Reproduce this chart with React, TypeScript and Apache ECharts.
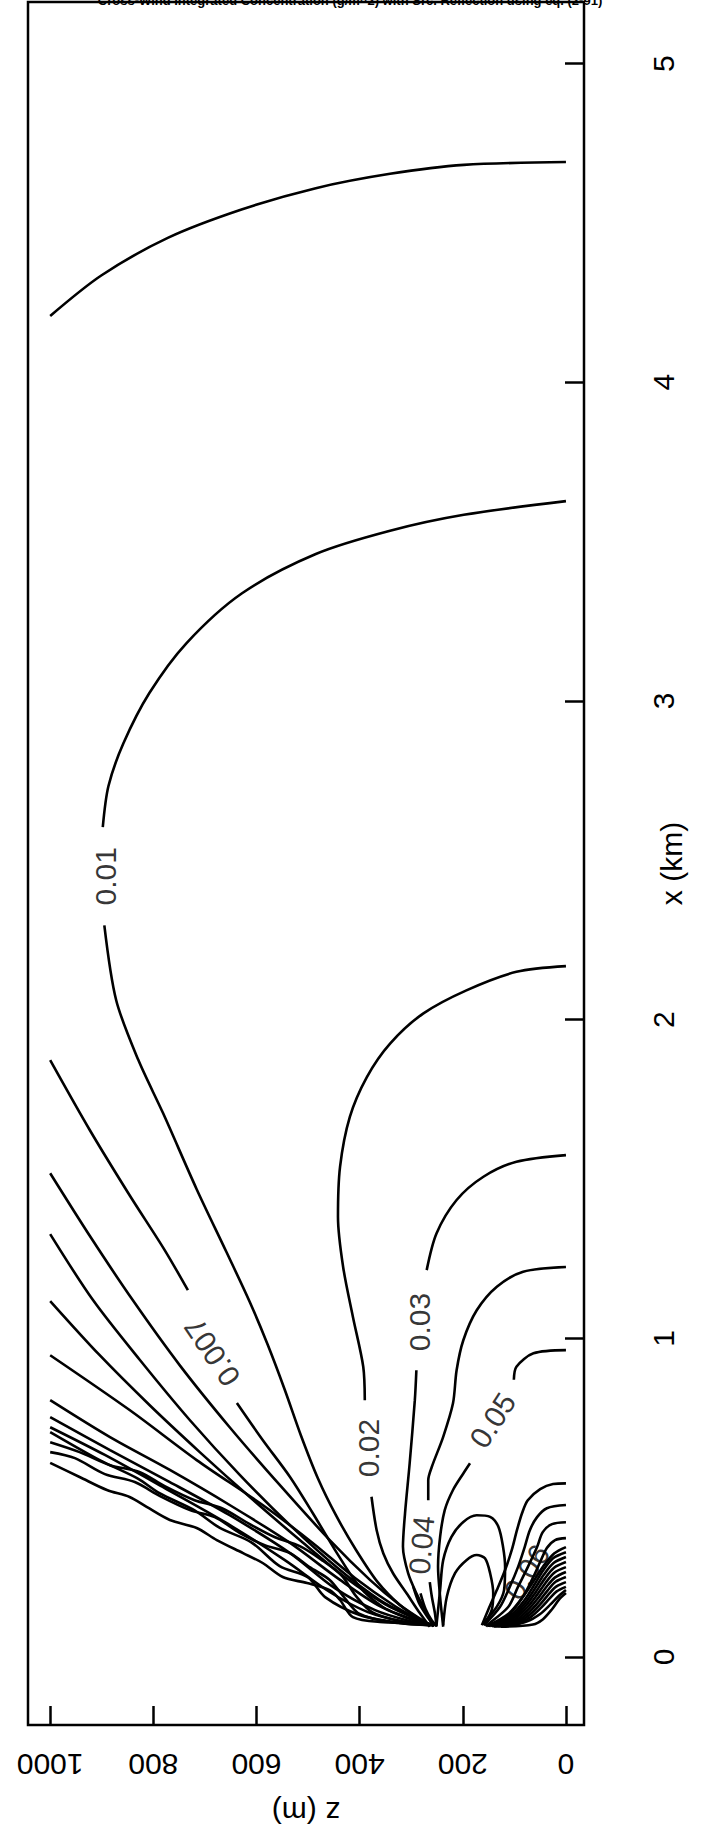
import React, { useEffect, useRef } from "react";
import * as echarts from "echarts";

// ---- axes ----
const Z_TICKS = [0, 200, 400, 600, 800, 1000]; // z (m), horizontal axis
const X_TICKS = [0, 1, 2, 3, 4, 5]; // x (km), vertical axis

const TITLE = "Cross-Wind Integrated Concentration (g/m^2) with Src. Reflection using eq. (2-91)";

// ---- contour lines: points are [z (m), x (km)]; each contour is a list of segments ----
const C_TOP = [[[1000, 4.208], [901, 4.335], [772, 4.453], [629, 4.542], [485, 4.609], [341, 4.654], [198, 4.682], [0, 4.691]]];

const C_001 = [
  [[0, 3.627], [198, 3.584], [341, 3.534], [485, 3.461], [628, 3.338], [736, 3.181], [808, 3.024], [858, 2.867], [887, 2.733], [898, 2.604]],
  [[895, 2.296], [872, 2.061], [829, 1.873], [781, 1.706], [716, 1.468], [658, 1.27], [613, 1.114], [578, 0.979], [545, 0.838], [514, 0.696], [481, 0.561], [446, 0.445], [407, 0.336], [365, 0.235], [322, 0.163], [279, 0.113]],
];

const C_002 = [
  [[0, 2.168], [96, 2.15], [193, 2.092], [277, 2.019], [341, 1.925], [386, 1.82], [419, 1.695], [438, 1.538], [442, 1.381], [432, 1.224], [413, 1.067], [393, 0.911], [390, 0.806]],
  [[377, 0.503], [367, 0.398], [354, 0.325], [335, 0.262], [309, 0.2], [283, 0.137], [264, 0.095]],
];

const C_003 = [
  [[0, 1.575], [96, 1.554], [160, 1.507], [212, 1.434], [251, 1.329], [270, 1.214]],
  [[290, 0.9], [293, 0.806], [303, 0.608], [312, 0.451], [316, 0.346], [306, 0.263], [290, 0.2], [270, 0.137], [257, 0.095]],
];

const C_004 = [
  [[0, 1.224], [83, 1.209], [134, 1.162], [173, 1.088], [199, 0.994], [212, 0.9], [219, 0.796], [238, 0.691], [260, 0.597], [267, 0.555], [267, 0.492]],
  [[264, 0.235], [260, 0.189], [254, 0.137], [251, 0.095]],
];

const C_005 = [
  [[0, 0.963], [63, 0.953], [96, 0.911], [101, 0.87]],
  [[186, 0.608], [199, 0.576], [219, 0.524], [235, 0.461], [244, 0.377], [248, 0.283], [244, 0.189], [238, 0.095]],
];

const ARCH_OUTER = [[[251, 0.1], [244, 0.21], [238, 0.304], [222, 0.377], [199, 0.424], [173, 0.445], [147, 0.44], [131, 0.409], [122, 0.346], [118, 0.283], [120, 0.21], [134, 0.158], [160, 0.106]]];
const ARCH_INNER = [[[238, 0.1], [231, 0.189], [215, 0.263], [193, 0.304], [173, 0.32], [157, 0.31], [147, 0.263], [141, 0.2], [144, 0.147], [160, 0.1]]];

// short lines converging on the source between 0.03 and 0.05
const NEAR_SRC_1 = [[[296, 0.22], [285, 0.17], [268, 0.125], [255, 0.097]]];
const NEAR_SRC_2 = [[[282, 0.2], [272, 0.15], [260, 0.115], [250, 0.097]]];

// upper plume edge (low values), from z = 1000 down to the source
const D_007 = [
  [[1000, 1.873], [923, 1.653], [846, 1.449], [778, 1.277], [733, 1.151]],
  [[638, 0.797], [588, 0.681], [535, 0.565], [491, 0.452], [444, 0.326], [400, 0.22], [355, 0.157], [308, 0.122], [273, 0.107]],
];
const D_2 = [[[1000, 1.518], [923, 1.321], [840, 1.12], [749, 0.916], [652, 0.721], [555, 0.54], [458, 0.367], [380, 0.242], [322, 0.163], [273, 0.11]]];
const D_3 = [[[1000, 1.327], [917, 1.12], [826, 0.932], [729, 0.743], [632, 0.571], [535, 0.414], [438, 0.273], [361, 0.179], [303, 0.129], [268, 0.104]]];
const D_4 = [[[1000, 1.117], [904, 0.947], [807, 0.79], [710, 0.643], [613, 0.502], [516, 0.367], [429, 0.251], [351, 0.166], [293, 0.122], [264, 0.104]]];
const D_5 = [[[1000, 0.947], [846, 0.775], [716, 0.618], [588, 0.477], [491, 0.358], [409, 0.248], [332, 0.16], [283, 0.116], [260, 0.1]]];
const D_6 = [[[1000, 0.806], [884, 0.69], [768, 0.587], [652, 0.477], [535, 0.358], [438, 0.242], [361, 0.16], [293, 0.116], [256, 0.1]]];
const D_7 = [[[1000, 0.753], [884, 0.649], [768, 0.549], [652, 0.445], [535, 0.326], [448, 0.216], [370, 0.147], [303, 0.113], [256, 0.1]]];
const D_8 = [[[1000, 0.721], [894, 0.634], [778, 0.53], [661, 0.423], [545, 0.304], [458, 0.204], [384, 0.141], [312, 0.11], [260, 0.1]]];
const D_9 = [[[1000, 0.706], [904, 0.618], [830, 0.56], [788, 0.514], [720, 0.46], [671, 0.405], [610, 0.36], [555, 0.285], [500, 0.25], [467, 0.188], [400, 0.132], [322, 0.107], [264, 0.1]]];
const D_10 = [[[1000, 0.674], [943, 0.643], [884, 0.602], [826, 0.58], [778, 0.536], [720, 0.492], [667, 0.467], [613, 0.417], [564, 0.376], [516, 0.348], [473, 0.304], [434, 0.254], [407, 0.191], [376, 0.141], [322, 0.113], [260, 0.1]]];
const D_11 = [[[1000, 0.643], [952, 0.624], [894, 0.574], [836, 0.549], [787, 0.505], [729, 0.461], [681, 0.439], [632, 0.389], [584, 0.351], [535, 0.326], [497, 0.282], [458, 0.242], [429, 0.185], [400, 0.135], [341, 0.11], [264, 0.1]]];
const D_12 = [[[1000, 0.609], [943, 0.565], [890, 0.524], [846, 0.502], [813, 0.471], [768, 0.43], [716, 0.405], [677, 0.367], [626, 0.326], [588, 0.295], [549, 0.251], [502, 0.232], [458, 0.21], [438, 0.179], [413, 0.125], [361, 0.11], [273, 0.107]]];

// ground-level cluster
const G_1 = [[[0, 0.545], [25, 0.543], [50, 0.527], [74, 0.492], [85, 0.452], [95, 0.398], [105, 0.336], [118, 0.273], [134, 0.21], [151, 0.147], [163, 0.1]]];
const G_2 = [[[0, 0.477], [37, 0.467], [56, 0.439], [70, 0.398], [80, 0.345], [93, 0.282], [109, 0.22], [128, 0.157], [159, 0.1]]];
const G_3 = [[[0, 0.423], [27, 0.417], [45, 0.392], [56, 0.345], [74, 0.282], [93, 0.22], [112, 0.157], [156, 0.097]]];
const G_4 = [[[0, 0.373], [21, 0.367], [37, 0.342], [50, 0.298], [66, 0.242], [85, 0.185], [115, 0.125], [153, 0.097]]];
const G_5 = [[[0, 0.329], [25, 0.31], [45, 0.27], [62, 0.225], [82, 0.175], [110, 0.125], [150, 0.097]]];
const G_6 = [[[0, 0.314], [24, 0.295], [43, 0.258], [60, 0.215], [80, 0.168], [108, 0.121], [147, 0.097]]];
const G_7 = [[[0, 0.298], [23, 0.28], [41, 0.246], [58, 0.205], [78, 0.161], [106, 0.117], [144, 0.097]]];
const G_8 = [[[0, 0.282], [22, 0.265], [39, 0.234], [56, 0.195], [76, 0.154], [104, 0.113], [141, 0.097]]];
const G_9 = [[[0, 0.267], [21, 0.25], [37, 0.222], [54, 0.185], [74, 0.147], [102, 0.11], [138, 0.097]]];
const G_10 = [[[0, 0.251], [20, 0.236], [35, 0.21], [52, 0.175], [72, 0.14], [100, 0.107], [135, 0.097]]];
const G_11 = [[[0, 0.235], [19, 0.221], [33, 0.198], [50, 0.165], [70, 0.133], [98, 0.104], [132, 0.097]]];
const G_12 = [[[0, 0.22], [18, 0.206], [31, 0.185], [48, 0.155], [68, 0.126], [96, 0.102], [129, 0.097]]];
const G_13 = [[[0, 0.201], [12, 0.183], [27, 0.15], [45, 0.118], [64, 0.102], [126, 0.095]]];
const G_14 = [[[0, 0.21], [15, 0.19], [30, 0.165], [50, 0.135], [75, 0.112], [110, 0.099], [140, 0.096]]];
const G_15 = [[[0, 0.345], [23, 0.325], [44, 0.285], [62, 0.24], [83, 0.19], [112, 0.135], [152, 0.098]]];

const CONTOURS = [
  C_TOP, C_001, C_002, C_003, C_004, C_005, ARCH_OUTER, ARCH_INNER, NEAR_SRC_1, NEAR_SRC_2,
  D_007, D_2, D_3, D_4, D_5, D_6, D_7, D_8, D_9, D_10, D_11, D_12,
  G_1, G_2, G_3, G_4, G_5, G_6, G_7, G_8, G_9, G_10, G_11, G_12, G_13, G_14, G_15,
];

// contour labels: [z, x, text, rotation]
const LABEL_Z = [893, 686, 382, 283, 280, 142, 76];
const LABEL_X = [2.45, 0.957, 0.656, 1.051, 0.351, 0.743, 0.267];
const LABEL_TEXT = ["0.01", "0.007", "0.02", "0.03", "0.04", "0.05", "0.06"];
const LABEL_ROT = [90, 124, 90, 90, 85, 57, 57];

const FONT = "'Liberation Sans', Arial, Helvetica, sans-serif";

export default function App() {
  const ref = useRef<HTMLDivElement>(null);

  useEffect(() => {
    if (!ref.current) return;
    const chart = echarts.init(ref.current, undefined, { renderer: "svg" });

    const series: any[] = [];
    CONTOURS.forEach((c) => {
      c.forEach((seg) => {
        series.push({
          type: "line",
          data: seg,
          showSymbol: false,
          symbol: "none",
          smooth: 0.3,
          silent: true,
          lineStyle: { color: "#000", width: 2.6 },
          z: 2,
        });
      });
    });

    series.push({
      type: "scatter",
      symbolSize: 0,
      silent: true,
      z: 3,
      data: LABEL_TEXT.map((t, i) => ({
        value: [LABEL_Z[i], LABEL_X[i]],
        label: {
          show: true,
          position: "inside",
          formatter: t,
          rotate: LABEL_ROT[i],
          fontSize: 30,
          fontFamily: FONT,
          color: "#000",
        },
      })),
    });

    chart.setOption({
      animation: false,
      backgroundColor: "#fff",
      title: {
        text: TITLE,
        left: 345,
        textAlign: "center",
        top: -11,
        textStyle: { fontSize: 13, fontWeight: "bold", color: "#000", fontFamily: FONT },
      },
      grid: {
        left: 28,
        top: 2,
        width: 556,
        height: 1723,
        show: true,
        borderColor: "#000",
        borderWidth: 2.5,
        backgroundColor: "transparent",
        containLabel: false,
        outerBoundsMode: "none",
      },
      xAxis: {
        type: "value",
        inverse: true,
        min: -35,
        max: 1043,
        position: "bottom",
        splitLine: { show: false },
        axisLine: { show: false, onZero: false },
        axisTick: {
          show: true,
          inside: true,
          length: 19,
          customValues: Z_TICKS,
          lineStyle: { color: "#000", width: 2.5 },
        },
        axisLabel: {
          customValues: Z_TICKS,
          formatter: (v: number) => String(v),
          rotate: 180,
          margin: 24,
          fontSize: 30,
          fontFamily: FONT,
          color: "#000",
        },
        name: "z (m)",
        nameLocation: "middle",
        nameRotate: 180,
        nameGap: 72,
        nameMoveOverlap: false,
        nameTextStyle: { fontSize: 30, fontFamily: FONT, color: "#000" },
      },
      yAxis: {
        type: "value",
        min: -0.2133,
        max: 5.1932,
        position: "right",
        splitLine: { show: false },
        axisLine: { show: false, onZero: false },
        axisTick: {
          show: true,
          inside: true,
          length: 19,
          customValues: X_TICKS,
          lineStyle: { color: "#000", width: 2.5 },
        },
        axisLabel: {
          customValues: X_TICKS,
          formatter: (v: number) => String(v),
          rotate: 90,
          margin: 64,
          fontSize: 30,
          fontFamily: FONT,
          color: "#000",
        },
        name: "x (km)",
        nameLocation: "middle",
        nameRotate: 90,
        nameGap: 72,
        nameMoveOverlap: false,
        nameTextStyle: { fontSize: 30, fontFamily: FONT, color: "#000" },
      },
      series,
    });

    return () => chart.dispose();
  }, []);

  return (
    <div
      ref={ref}
      style={{ position: "absolute", left: 0, top: 0, width: 704, height: 1839, background: "#fff" }}
    />
  );
}
